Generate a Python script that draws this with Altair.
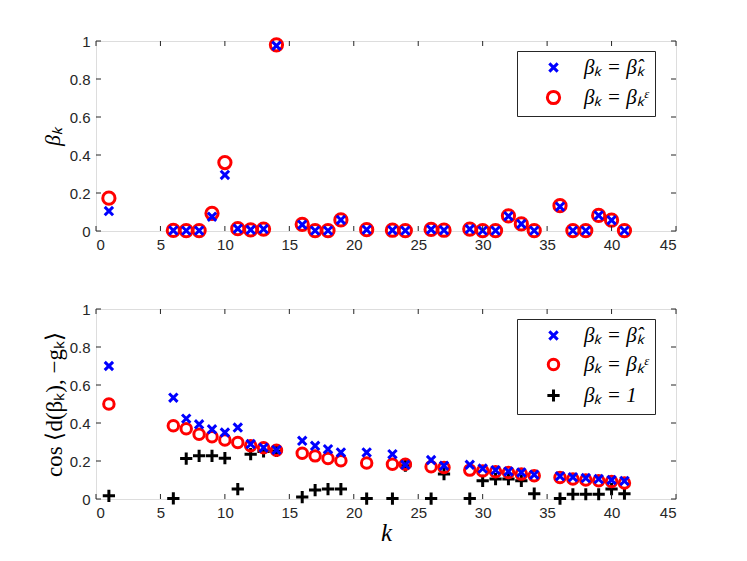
import altair as alt
import pandas as pd

# ---- data ----
k = [1, 6, 7, 8, 9, 10, 11, 12, 13, 14, 16, 17, 18, 19, 21, 23, 24, 26, 27,
     29, 30, 31, 32, 33, 34, 36, 37, 38, 39, 40, 41]

beta_hat = [0.105, 0.003, 0.002, 0.002, 0.075, 0.295, 0.012, 0.006, 0.010, 0.975,
            0.033, 0.002, 0.002, 0.058, 0.007, 0.004, 0.002, 0.008, 0.004, 0.010,
            0.002, 0.002, 0.078, 0.037, 0.002, 0.128, 0.002, 0.002, 0.082, 0.057, 0.002]
beta_eps = [0.173, 0.003, 0.002, 0.002, 0.093, 0.360, 0.012, 0.006, 0.010, 0.980,
            0.035, 0.002, 0.002, 0.058, 0.007, 0.004, 0.002, 0.008, 0.004, 0.010,
            0.002, 0.002, 0.080, 0.037, 0.002, 0.133, 0.002, 0.002, 0.082, 0.057, 0.002]

cos_hat = [0.700, 0.533, 0.423, 0.393, 0.367, 0.350, 0.376, 0.289, 0.270, 0.258,
           0.306, 0.280, 0.262, 0.245, 0.245, 0.236, 0.180, 0.205, 0.175, 0.180,
           0.160, 0.152, 0.145, 0.140, 0.128, 0.120, 0.115, 0.110, 0.105, 0.100, 0.095]
cos_eps = [0.500, 0.385, 0.370, 0.341, 0.328, 0.310, 0.297, 0.280, 0.270, 0.257,
           0.241, 0.227, 0.213, 0.201, 0.189, 0.183, 0.183, 0.170, 0.166, 0.152,
           0.148, 0.143, 0.140, 0.131, 0.122, 0.113, 0.105, 0.100, 0.096, 0.092, 0.084]
cos_one = [0.017, 0.003, 0.213, 0.227, 0.227, 0.215, 0.052, 0.236, 0.250, 0.253,
           0.010, 0.047, 0.052, 0.052, 0.002, 0.002, 0.175, 0.002, 0.131, 0.002,
           0.096, 0.105, 0.105, 0.096, 0.028, 0.002, 0.025, 0.025, 0.025, 0.052, 0.028]

x_ticks = [0, 5, 10, 15, 20, 25, 30, 35, 40, 45]
y_ticks = [0, 0.2, 0.4, 0.6, 0.8, 1]

lab_hat = "βₖ = β\u0302ₖ"
lab_eps = "βₖ = βₖᵋ"
lab_one = "βₖ = 1"

X_PATH = "M-1,-1L1,1M1,-1L-1,1"
P_PATH = "M-1,0L1,0M0,-1L0,1"

W, H = 580, 190
AX = "#262626"


def long_df(series):
    rows = []
    for lab, vals in series:
        for kk, vv in zip(k, vals):
            rows.append({"k": kk, "v": vv, "series": lab})
    return pd.DataFrame(rows)


def panel(df, labels, colors, shapes, sizes, ytitle, ytitle_style, xtitle,
          ytitle_size, ytitle_pad):
    xtitle_opts = ({"title": xtitle, "titleFont": "Liberation Serif",
                    "titleFontStyle": "italic", "titleFontWeight": "normal",
                    "titleFontSize": 25, "titleColor": "black", "titlePadding": 0}
                   if xtitle else {"title": ""})
    xaxis = alt.Axis(values=x_ticks, domain=False, ticks=False, grid=False,
                     labelFont="Liberation Sans", labelFontSize=15, labelColor=AX,
                     labelPadding=6, **xtitle_opts)
    yaxis = alt.Axis(values=y_ticks, format="~g", domain=False, ticks=False, grid=False,
                     labelFont="Liberation Sans", labelFontSize=15, labelColor=AX,
                     labelPadding=6, title=ytitle, titleFont="Liberation Serif",
                     titleFontStyle=ytitle_style, titleFontWeight="normal",
                     titleFontSize=ytitle_size, titleColor="black", titlePadding=ytitle_pad)
    xs = alt.Scale(domain=[0, 45], nice=False, zero=False)
    ys = alt.Scale(domain=[0, 1], nice=False)

    pts = alt.Chart(df).mark_point(filled=False, strokeWidth=3, opacity=1).encode(
        x=alt.X("k:Q", scale=xs, axis=xaxis),
        y=alt.Y("v:Q", scale=ys, axis=yaxis),
        color=alt.Color("series:N", scale=alt.Scale(domain=labels, range=colors),
                        legend=alt.Legend(title=None, orient="none", legendX=421, legendY=10,
                                          strokeColor=AX, fillColor="white", padding=6,
                                          labelFont="Liberation Serif", labelFontStyle="italic",
                                          labelFontSize=21, labelColor="black",
                                          symbolStrokeWidth=3, symbolSize=120,
                                          rowPadding=7, symbolOffset=20, labelOffset=20,
                                          labelLimit=200)),
        shape=alt.Shape("series:N", scale=alt.Scale(domain=labels, range=shapes)),
        size=alt.Size("series:N", scale=alt.Scale(domain=labels, range=sizes), legend=None),
        order=alt.Order("ord:Q"),
    ).transform_calculate(ord="indexof(%s, datum.series)" % str(list(reversed(labels))).replace("'", '"'))

    xt = pd.DataFrame({"k": x_ticks})
    yt = pd.DataFrame({"v": y_ticks})
    rule_b = alt.Chart(xt).mark_rule(color=AX, strokeWidth=1).encode(
        x=alt.X("k:Q", scale=xs, axis=xaxis), y=alt.value(H), y2=alt.value(H - 5))
    rule_t = alt.Chart(xt).mark_rule(color=AX, strokeWidth=1).encode(
        x=alt.X("k:Q", scale=xs, axis=xaxis), y=alt.value(0), y2=alt.value(5))
    rule_l = alt.Chart(yt).mark_rule(color=AX, strokeWidth=1).encode(
        y=alt.Y("v:Q", scale=ys, axis=yaxis), x=alt.value(0), x2=alt.value(5))
    rule_r = alt.Chart(yt).mark_rule(color=AX, strokeWidth=1).encode(
        y=alt.Y("v:Q", scale=ys, axis=yaxis), x=alt.value(W), x2=alt.value(W - 5))
    return alt.layer(pts, rule_b, rule_t, rule_l, rule_r).properties(width=W, height=H)


# draw order: red circles first, then blue crosses, then black plus
top_df = long_df([(lab_eps, beta_eps), (lab_hat, beta_hat)])
bot_df = long_df([(lab_eps, cos_eps), (lab_hat, cos_hat), (lab_one, cos_one)])

top = panel(top_df, [lab_hat, lab_eps], ["#0000ff", "#ff0000"], [X_PATH, "circle"],
            [70, 150], "βₖ", "italic", None, 22, 5)
bottom = panel(bot_df, [lab_hat, lab_eps, lab_one], ["#0000ff", "#ff0000", "#000000"],
               [X_PATH, "circle", P_PATH], [70, 150, 150],
               "cos ⟨d(βₖ), −gₖ⟩", "normal", "k", 23, 3)

chart = alt.vconcat(top, bottom, spacing=48).resolve_scale(
    color="independent", shape="independent", size="independent"
).properties(
    padding={"left": 32, "top": 24, "right": 10, "bottom": 5}
).configure_view(stroke=AX, strokeWidth=1).configure(background="white")

chart.save("out.html", embed_options={"renderer": "svg", "actions": False})
